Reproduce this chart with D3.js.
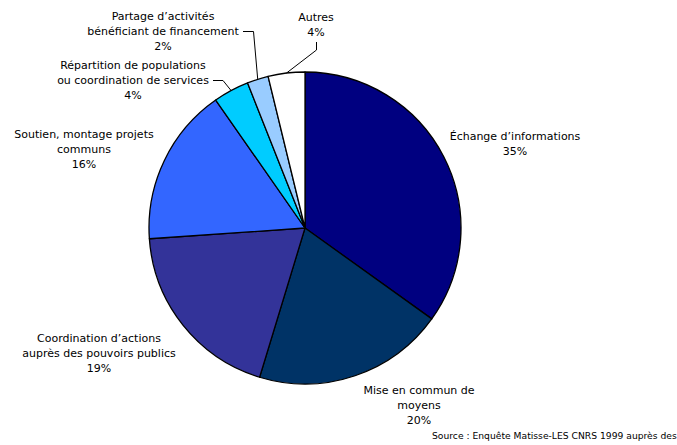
<!DOCTYPE html>
<html>
<head>
<meta charset="utf-8">
<script src="https://cdn.jsdelivr.net/npm/d3@7"></script>
<style>
  body { margin: 0; background: #fff; }
  svg { display: block; font-family: "DejaVu Sans", Verdana, sans-serif; }
</style>
</head>
<body>
<svg></svg>
<script>
// dimensions
const width = 677;
const height = 445;
const cx = 305, cy = 228, radius = 156;

// data
const categories = [
  ["Échange d’informations"],
  ["Mise en commun de", "moyens"],
  ["Coordination d’actions", "auprès des pouvoirs publics"],
  ["Soutien, montage projets", "communs"],
  ["Répartition de populations", "ou coordination de services"],
  ["Partage d’activités", "bénéficiant de financement"],
  ["Autres"]
];
const values = [34.9, 19.8, 19.2, 16.4, 3.7, 2.2, 3.8];
const pctLabels = ["35%", "20%", "19%", "16%", "4%", "2%", "4%"];
const colors = ["#000080", "#003366", "#333399", "#3366ff", "#00ccff", "#99ccff", "#ffffff"];

// label layout (x center, first baseline)
const labelPos = [
  [515, 140], [419, 394], [99, 342], [84, 138],
  [133, 69], [163, 20], [316, 21]
];
// leader line elbows for small slices
const leaders = {
  4: [[223, 80.5], [213, 80.5]],
  5: [[253.5, 31.5], [243, 31.5]],
  6: [[316.5, 50], [316.5, 42]]
};

const svg = d3.select("svg")
  .attr("width", width)
  .attr("height", height);

const pie = d3.pie().sort(null).value(d => d);
const arcs = pie(values);
const arc = d3.arc().innerRadius(0).outerRadius(radius);

const g = svg.append("g").attr("transform", `translate(${cx},${cy})`);

g.selectAll("path")
  .data(arcs)
  .enter()
  .append("path")
  .attr("d", arc)
  .attr("fill", (d, i) => colors[i])
  .attr("stroke", "#000")
  .attr("stroke-width", 1.3)
  .attr("stroke-linejoin", "round");

// leader lines
Object.keys(leaders).forEach(k => {
  const a = arcs[k];
  const mid = (a.startAngle + a.endAngle) / 2;
  const start = [cx + radius * Math.sin(mid), cy - radius * Math.cos(mid)];
  const pts = [start].concat(leaders[k]);
  svg.append("path")
    .attr("d", d3.line()(pts))
    .attr("fill", "none")
    .attr("stroke", "#000")
    .attr("stroke-width", 1);
});

// labels
const lineH = 15;
categories.forEach((lines, i) => {
  const [x, y] = labelPos[i];
  const t = svg.append("text")
    .attr("text-anchor", "middle")
    .attr("font-size", 11)
    .attr("fill", "#000");
  lines.concat([pctLabels[i]]).forEach((s, j) => {
    t.append("tspan")
      .attr("x", x)
      .attr("y", y + j * lineH)
      .text(s);
  });
});

// source
svg.append("text")
  .attr("x", 432)
  .attr("y", 439)
  .attr("font-size", 9.2)
  .attr("fill", "#000")
  .text("Source : Enquête Matisse-LES CNRS 1999 auprès des");
</script>
</body>
</html>
